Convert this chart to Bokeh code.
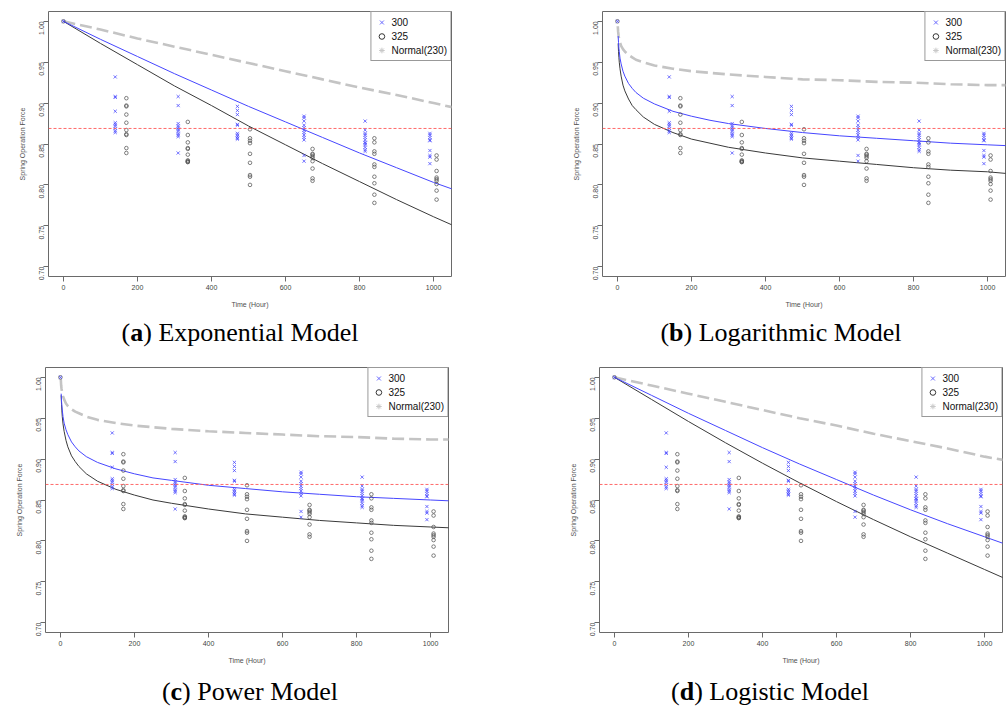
import math
from bokeh.plotting import figure
from bokeh.models import (Range1d, FixedTicker, NumeralTickFormatter, Legend, LegendItem,
                          Div, Span)
from bokeh.layouts import column, row
from bokeh.embed import file_html
from bokeh.resources import INLINE

NAN = float("nan")

# ---------------- data ----------------
x_ticks = [0, 200, 400, 600, 800, 1000]
y_ticks = [0.70, 0.75, 0.80, 0.85, 0.90, 0.95, 1.00]
threshold = 0.869

times_300 = [0, 140, 310, 470, 650, 815, 990]
values_300 = [
    [1.000],
    [0.932, 0.908, 0.907, 0.890, 0.876, 0.874, 0.872, 0.869, 0.866, 0.864],
    [0.908, 0.897, 0.875, 0.872, 0.870, 0.868, 0.866, 0.863, 0.861, 0.859, 0.839],
    [0.896, 0.891, 0.886, 0.874, 0.873, 0.863, 0.861, 0.859, 0.857, 0.856],
    [0.884, 0.882, 0.878, 0.873, 0.870, 0.867, 0.864, 0.861, 0.858, 0.855, 0.836, 0.829],
    [0.878, 0.867, 0.863, 0.861, 0.858, 0.855, 0.852, 0.851, 0.849, 0.846, 0.843, 0.841],
    [0.863, 0.861, 0.858, 0.855, 0.854, 0.842, 0.836, 0.834, 0.826],
]
times_325 = [0, 170, 336, 504, 673, 840, 1008]
values_325 = [
    [1.000],
    [0.906, 0.897, 0.896, 0.886, 0.876, 0.867, 0.862, 0.861, 0.845, 0.839],
    [0.877, 0.861, 0.852, 0.845, 0.844, 0.837, 0.830, 0.829, 0.828, 0.828],
    [0.868, 0.857, 0.854, 0.851, 0.838, 0.827, 0.812, 0.810, 0.800],
    [0.844, 0.838, 0.837, 0.835, 0.833, 0.829, 0.820, 0.808, 0.805],
    [0.857, 0.852, 0.841, 0.838, 0.825, 0.822, 0.810, 0.802, 0.788, 0.778],
    [0.836, 0.831, 0.817, 0.809, 0.807, 0.805, 0.801, 0.793, 0.782],
]

# fitted curves
exp_t = [0, 100, 200, 300, 400, 500, 600, 700, 800, 900, 1000, 1050]
exp_300 = [1.000, 0.978, 0.957, 0.936, 0.916, 0.896, 0.877, 0.858, 0.839, 0.821, 0.803, 0.795]
exp_325 = [1.000, 0.973, 0.947, 0.921, 0.897, 0.872, 0.849, 0.826, 0.804, 0.782, 0.761, 0.751]
exp_230 = [1.000, 0.990, 0.979, 0.969, 0.959, 0.949, 0.939, 0.929, 0.919, 0.910, 0.900, 0.895]

log_t = [1, 2, 3, 4, 5, 7, 10, 15, 20, 30, 40, 50, 70, 100, 150, 200, 250, 300,
         400, 500, 600, 700, 800, 900, 1000, 1050]
log_300 = [NAN, 0.982, 0.974, 0.967, 0.963, 0.955, 0.948, 0.939, 0.933, 0.924, 0.918, 0.913,
           0.906, 0.899, 0.890, 0.884, 0.879, 0.875, 0.869, 0.864, 0.860, 0.857, 0.854,
           0.851, 0.849, 0.848]
log_325 = [NAN, 0.973, 0.963, 0.956, 0.950, 0.942, 0.933, 0.922, 0.915, 0.905, 0.897, 0.892,
           0.883, 0.874, 0.864, 0.856, 0.851, 0.846, 0.839, 0.833, 0.829, 0.825, 0.821,
           0.818, 0.816, 0.814]
log_230 = [0.994, 0.987, 0.983, 0.980, 0.977, 0.974, 0.970, 0.966, 0.963, 0.959, 0.956, 0.953,
           0.950, 0.946, 0.942, 0.939, 0.937, 0.935, 0.932, 0.929, 0.928, 0.926, 0.925,
           0.923, 0.922, 0.922]

pow_t = [1, 2, 3, 4, 5, 7, 10, 15, 20, 30, 40, 50, 70, 100, 150, 200, 250, 300,
         400, 500, 600, 700, 800, 900, 1000, 1050]
pow_300 = [NAN, 0.980, 0.971, 0.965, 0.960, 0.952, 0.944, 0.936, 0.930, 0.921, 0.915, 0.910,
           0.903, 0.896, 0.888, 0.882, 0.877, 0.874, 0.868, 0.864, 0.860, 0.857, 0.854,
           0.852, 0.850, 0.849]
pow_325 = [NAN, 0.978, 0.967, 0.959, 0.952, 0.943, 0.934, 0.923, 0.915, 0.904, 0.897, 0.891,
           0.882, 0.873, 0.863, 0.856, 0.850, 0.846, 0.839, 0.833, 0.829, 0.825, 0.822,
           0.819, 0.817, 0.816]
pow_230 = [0.998, 0.990, 0.986, 0.983, 0.980, 0.977, 0.973, 0.968, 0.965, 0.961, 0.958, 0.956,
           0.952, 0.948, 0.944, 0.941, 0.939, 0.937, 0.934, 0.932, 0.930, 0.928, 0.927,
           0.925, 0.924, 0.924]

lgs_t = [0, 100, 200, 300, 400, 500, 600, 700, 800, 900, 1000, 1050]
lgs_300 = [1.000, 0.978, 0.956, 0.935, 0.914, 0.894, 0.875, 0.856, 0.838, 0.821, 0.805, 0.797]
lgs_325 = [1.000, 0.973, 0.946, 0.920, 0.895, 0.871, 0.848, 0.826, 0.805, 0.785, 0.765, 0.755]
lgs_230 = [1.000, 0.990, 0.980, 0.970, 0.960, 0.950, 0.941, 0.931, 0.922, 0.913, 0.903, 0.899]

legend_labels = ["300", "325", "Normal(230)"]
captions = [("a", "Exponential Model"), ("b", "Logarithmic Model"),
            ("c", "Power Model"), ("d", "Logistic Model")]

# flatten the scatter data
x300, y300 = [], []
for t, vals in zip(times_300, values_300):
    x300 += [t] * len(vals)
    y300 += vals
x325, y325 = [], []
for t, vals in zip(times_325, values_325):
    x325 += [t] * len(vals)
    y325 += vals

BLUE = "#4646ff"
DARK = "#3a3a3a"
GRAY = "#c4c4c4"
FONT = "Liberation Sans"


def make_panel(width, height, bl, br, bt, bb, t, c300, c325, c230):
    p = figure(width=width, height=height,
               x_range=Range1d(-40.3, 1048.3), y_range=Range1d(0.688, 1.012),
               output_backend="svg", toolbar_location=None,
               min_border_left=bl, min_border_right=br,
               min_border_top=bt, min_border_bottom=bb)
    p.grid.visible = False
    p.background_fill_color = "white"
    p.border_fill_color = "white"
    p.outline_line_color = "#6a6a6a"
    p.outline_line_width = 1

    p.xaxis.ticker = FixedTicker(ticks=x_ticks)
    p.yaxis.ticker = FixedTicker(ticks=y_ticks)
    p.yaxis.formatter = NumeralTickFormatter(format="0.00")
    p.yaxis.major_label_orientation = math.pi / 2
    for ax in (p.xaxis[0], p.yaxis[0]):
        ax.axis_line_color = None
        ax.major_tick_out = 5
        ax.major_tick_in = 0
        ax.minor_tick_out = 0
        ax.minor_tick_in = 0
        ax.major_tick_line_color = "#6a6a6a"
        ax.major_label_text_font = FONT
        ax.major_label_text_font_size = "7px"
        ax.major_label_text_color = "#444444"
        ax.axis_label_text_font = FONT
        ax.axis_label_text_font_size = "7px"
        ax.axis_label_text_font_style = "normal"
        ax.axis_label_text_color = "#505050"
    p.xaxis.axis_label = "Time (Hour)"
    p.yaxis.axis_label = "Spring Operation Force"
    p.xaxis.major_label_standoff = 3
    p.xaxis.axis_label_standoff = 8
    p.yaxis.major_label_standoff = 2
    p.yaxis.axis_label_standoff = 8

    p.add_layout(Span(location=threshold, dimension="width", line_color="#ff5a5a",
                      line_width=1, line_dash="3 2", line_alpha=0.9))

    p.line(t, c230, line_color=GRAY, line_width=2.6, line_dash="12 5")
    p.line(t, c325, line_color=DARK, line_width=1)
    p.line(t, c300, line_color=BLUE, line_width=1)

    p.scatter(x325, y325, marker="circle", size=3.6, fill_color=None,
              line_color="#505050", line_width=0.8, line_alpha=0.9)
    p.scatter(x300, y300, marker="x", size=4.5, line_color=BLUE, line_width=0.9,
              line_alpha=0.85)

    # legend-only renderers (a single NaN point, never drawn)
    r1 = p.scatter(x=[NAN], y=[NAN], marker="x", line_color="#6a6aff", line_width=1)
    r2 = p.scatter(x=[NAN], y=[NAN], marker="circle", fill_color=None, line_color="#333333",
                   line_width=1)
    r3 = p.scatter(x=[NAN], y=[NAN], marker="asterisk", line_color="#c8c8c8", line_width=1)
    legend = Legend(items=[LegendItem(label=legend_labels[0], renderers=[r1]),
                           LegendItem(label=legend_labels[1], renderers=[r2]),
                           LegendItem(label=legend_labels[2], renderers=[r3])],
                    location="top_right", margin=0, padding=3, spacing=0,
                    glyph_height=14, glyph_width=14, label_height=14,
                    label_standoff=3, label_text_font=FONT,
                    label_text_font_size="10px", label_text_color="#111111",
                    border_line_color="#333333", border_line_width=1,
                    background_fill_color="white", background_fill_alpha=1)
    p.add_layout(legend)
    return p


pa = make_panel(528, 318, 48, 77, 11, 42, exp_t, exp_300, exp_325, exp_230)
pb = make_panel(478, 318, 74, 1, 11, 42, log_t, log_300, log_325, log_230)
pc = make_panel(520, 305, 45, 72, 4, 36, pow_t, pow_300, pow_325, pow_230)
pd_ = make_panel(483, 305, 79, 1, 4, 36, lgs_t, lgs_300, lgs_325, lgs_230)


def caption_div(items, height, top):
    spans = ""
    for (letter, name), cx in items:
        spans += ('<span style="position:absolute;left:%dpx;top:%dpx;transform:translateX(-50%%);'
                  'white-space:nowrap;line-height:18px">(<b>%s</b>) %s</span>' % (cx, top, letter, name))
    html = ('<div style="position:relative;width:1006px;height:%dpx;'
            'font-family:\'Liberation Serif\',serif;font-size:26px;color:#000">%s</div>' % (height, spans))
    return Div(text=html, width=1006, height=height, margin=(0, 0, 0, 0))


cap1 = caption_div([(captions[0], 240), (captions[1], 781)], 45, 6)
cap2 = caption_div([(captions[2], 250), (captions[3], 770)], 41, 15)

layout = column(row(pa, pb), cap1, row(pc, pd_), cap2)

open("out.html", "w").write(file_html(layout, INLINE))
